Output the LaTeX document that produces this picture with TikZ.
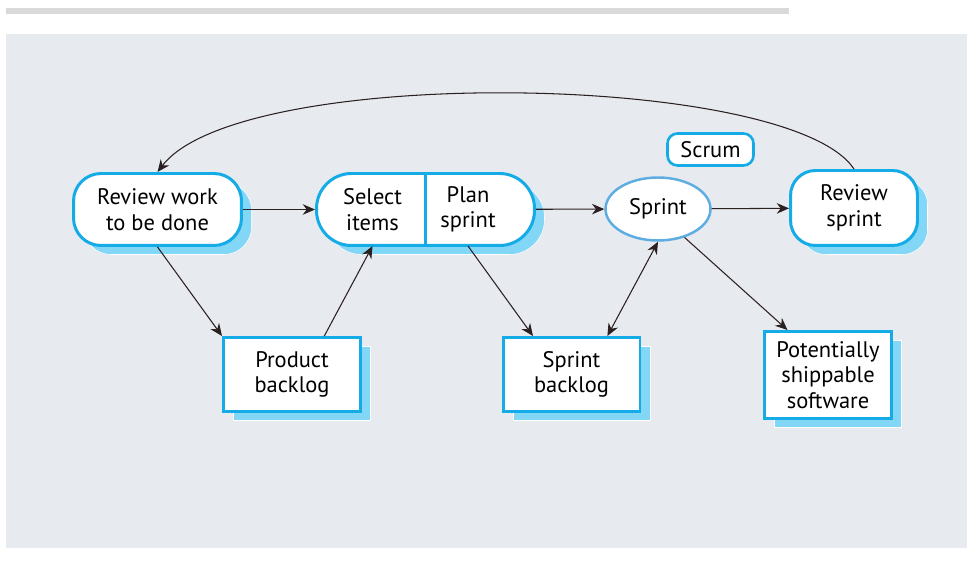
\documentclass[tikz,border=0pt]{standalone}
\usepackage{fontspec}
\setmainfont{PT Sans}
\usetikzlibrary{arrows.meta,shadows,shapes.geometric}
\definecolor{panel}{HTML}{E7EAEF}
\definecolor{topbar}{HTML}{D9D9D9}
\definecolor{cyanline}{HTML}{14ABE6}
\definecolor{cyanshade}{HTML}{82D6F6}
\definecolor{ovalline}{HTML}{5DADE2}
\definecolor{arrowink}{HTML}{2B2020}

\begin{document}
\begin{tikzpicture}[x=.02cm,y=-.02cm,line width=.6pt,font=\fontsize{12.8}{14.5}\selectfont,
  box/.style={draw=cyanline,line width=1.7pt,fill=white,align=center,inner sep=2pt},
  lifted/.style={general shadow={fill=cyanshade,draw=white,line width=.3pt,shadow xshift=.2cm,shadow yshift=-.18cm}},
  label/.style={align=center,inner sep=0pt,minimum height=1.44cm},
  flow/.style={draw=arrowink,-{Stealth[length=7pt,width=6pt]}}]
\useasboundingbox (0,0) rectangle (979,563);
\fill[topbar] (6,8) rectangle (789,14);
\fill[panel] (6,34) rectangle (967,548);
\node[box,lifted,rounded corners=.55cm,minimum width=3.36cm,minimum height=1.44cm] (rw) at (157.5,209.5) {Review work\\to be done};
\node[box,lifted,rounded corners=.7cm,minimum width=4.36cm,minimum height=1.44cm] (plan) at (425.5,209.5) {};
\draw[cyanline,line width=1.7pt] (plan.north) -- (plan.south);
\node[label] (sel) at (372.5,209.5) {Select\\items};
\node[label] (pln) at (468,209.5) {Plan\\sprint};
\node[ellipse,draw=ovalline,line width=1.4pt,fill=white,inner sep=0pt,minimum width=2.1cm,minimum height=1.26cm] (sprint) at (658,209) {Sprint};
\node[box,rounded corners=.2cm,line width=1.5pt,minimum width=1.72cm,minimum height=.64cm] (scrum) at (710.5,149.5) {Scrum};
\node[box,lifted,rounded corners=.5cm,minimum width=2.54cm,minimum height=1.5cm] (rs) at (854,208) {Review\\sprint};
\node[box,lifted,minimum width=2.74cm,minimum height=1.48cm] (pb) at (292,374.5) {Product\\backlog};
\node[box,lifted,minimum width=2.74cm,minimum height=1.48cm] (sb) at (571.5,374.5) {Sprint\\backlog};
\node[box,lifted,minimum width=2.54cm,minimum height=1.74cm] (pss) at (828,375) {Potentially\\shippable\\software};
\draw[flow] (rw) -- (plan);
\draw[flow] (plan) -- (sprint);
\draw[flow] (sprint) -- (rs);
\draw[flow] (rw.south) -- (pb.north west);
\draw[flow] (pb.50) -- (sel.south);
\draw[flow] (pln.south) -- (sb.135);
\draw[flow,{Stealth[length=7pt,width=6pt]}-{Stealth[length=7pt,width=6pt]}] (sprint.south) -- (sb.47);
\draw[flow] (sprint.-47) -- (pss.132);
\draw[flow] (rs.north) .. controls (790,72) and (240,64) .. (rw.north);
\end{tikzpicture}
\end{document}
